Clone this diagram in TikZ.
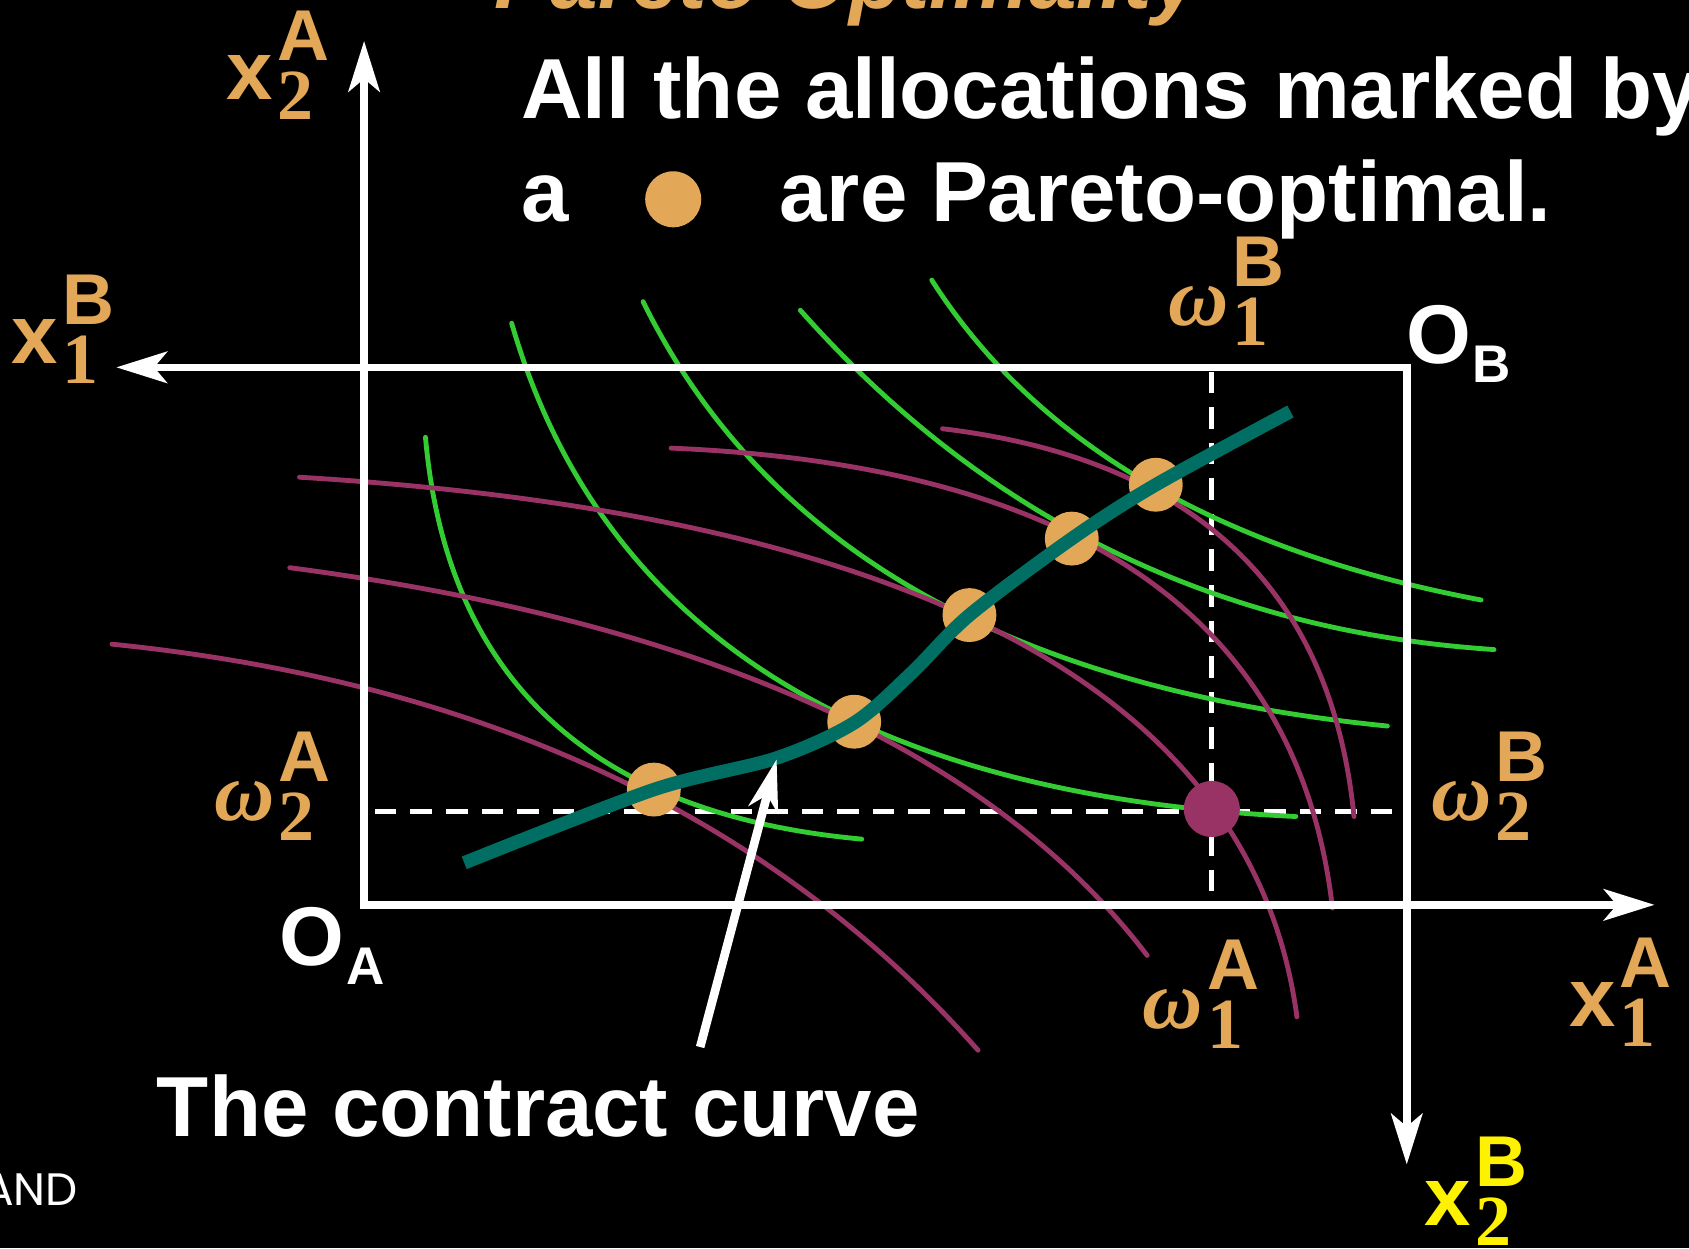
\documentclass[tikz,border=0pt]{standalone}
\usepackage{fontspec}
\setmainfont{Liberation Sans}
\newfontfamily\serif{Liberation Serif}
\newfontfamily\pubfont{Poppins}
\usetikzlibrary{arrows.meta}

\definecolor{gold}{RGB}{227,168,87}
\definecolor{icgreen}{RGB}{51,204,51}
\definecolor{icpurple}{RGB}{153,51,102}
\definecolor{ccteal}{RGB}{0,110,98}

\newcommand{\xlab}[3]{{\fontsize{22}{22}\selectfont #1}{\fontsize{19}{19}\selectfont\kern0.06em\rlap{\raisebox{0.54em}{#3}}\raisebox{-0.28em}{\serif #2}}}
\newcommand{\olab}[1]{{\fontsize{22}{22}\selectfont O}\kern0.04em\raisebox{-0.18cm}{\fontsize{14}{14}\selectfont #1}}
\newcommand{\om}{{\serif\itshape ω}}

\begin{document}
\begin{tikzpicture}[x=0.01cm,y=-0.01cm,
    >={Stealth[length=4.7mm,width=2.9mm,inset=1.2mm]},
    ax/.style={draw=white,line width=0.07cm,<->},
    guide/.style={draw=white,line width=0.045cm,dash pattern=on 0.2cm off 0.13cm},
    icA/.style={draw=icgreen,line width=0.045cm,line cap=round},
    icB/.style={draw=icpurple,line width=0.045cm,line cap=round},
    ccurve/.style={draw=ccteal,line width=0.125cm},
    pareto/.style={circle,fill=gold,inner sep=0pt,minimum size=0.5cm},
    lab/.style={inner sep=0pt,anchor=base west,font=\bfseries,text=gold},
    txt/.style={inner sep=0pt,anchor=base west,text=white,font=\fontsize{22.5}{26}\selectfont\bfseries}]
  \useasboundingbox (0,0) rectangle (1568,1159);
  \fill[black] (0,0) rectangle (1568,1159);

  \coordinate (OA) at (338,840);
  \coordinate (OB) at (1306,341);
  \coordinate (yA) at (338,38);
  \coordinate (xA) at (1536,840);
  \coordinate (xB) at (108,341);
  \coordinate (yB) at (1306,1081);
  \coordinate (w) at (1125,753);

  \draw[guide] ([xshift=0.1cm]w -| OA) -- ([xshift=-0.06cm]w -| OB);
  \draw[guide] ([yshift=-0.04cm]w |- OB) -- ([yshift=0.03cm]w |- OA);

  \draw[icA] (395,406) .. controls (415,632) and (550,756) .. (800,779);
  \draw[icA] (475,300) .. controls (558,587) and (801,739) .. (1203,758);
  \draw[icA] (597,280) .. controls (715,520) and (956,641) .. (1288,674);
  \draw[icA] (743,288) .. controls (914,481) and (1129,586) .. (1387,603);
  \draw[icA] (865,260) .. controls (962,412) and (1132,511) .. (1375,557);

  \draw[icB] (875,398) .. controls (1108,426) and (1236,546) .. (1257,758);
  \draw[icB] (623,416) .. controls (1001,432) and (1206,574) .. (1237,843);
  \draw[icB] (278,443) .. controls (855,478) and (1164,645) .. (1204,944);
  \draw[icB] (269,527) .. controls (656,578) and (921,698) .. (1065,887);
  \draw[icB] (104,598) .. controls (448,633) and (716,758) .. (908,975);

  \draw[ax] (yA) -- (OA) -- (xA);
  \draw[ax] (xB) -- (OB) -- (yB);

  \foreach \px/\py [count=\i] in {607/733,793/670,900/571,995/500,1073/450}
    \node[pareto] (p\i) at (\px,\py) {};
  \node[pareto,fill=icpurple,minimum size=0.52cm] (e) at (1125,751) {};

  \draw[ccurve] plot[smooth] coordinates {(431,801) (607,733) (720,704) (793,671) (846,625) (900,571) (995,500) (1073,450) (1198,382)};

  \node[txt] (cc) at (145,1055) {The contract curve};
  \coordinate (ccTail) at (650,972);
  \coordinate (ccHead) at (721,705);
  \draw[->,white,line width=0.08cm,>={Stealth[length=4.8mm,width=2.8mm,inset=1.4mm]}] (ccTail) -- (ccHead);

  \node[txt,text=gold,font=\fontsize{22.5}{26}\selectfont\bfseries\itshape] (title) at (458,8) {Pareto Optimality};
  \node[txt] (l1) at (483,110) {All the allocations marked by};
  \node[txt] (l2a) at (483,206) {a};
  \node[pareto,minimum size=0.52cm] (mk) at (625,185) {};
  \node[txt] (l2b) at (723,206) {are Pareto-optimal.};

  \node[lab] (x2A) at (210,92) {\xlab{x}{2}{A}};
  \node[lab] (x1B) at (10,337) {\xlab{x}{1}{B}};
  \node[lab] (x1A) at (1456,953) {\xlab{x}{1}{A}};
  \node[lab,text=yellow] (x2B) at (1322,1138) {\xlab{x}{2}{B}};
  \node[lab] (w1B) at (1084,302) {\xlab{\om}{1}{B}};
  \node[lab] (w2A) at (198,762) {\xlab{\om}{2}{A}};
  \node[lab] (w1A) at (1060,955) {\xlab{\om}{1}{A}};
  \node[lab] (w2B) at (1328,762) {\xlab{\om}{2}{B}};
  \node[lab,text=white] (oA) at (259,896) {\olab{A}};
  \node[lab,text=white] (oB) at (1305,337) {\olab{B}};

  \node[inner sep=0pt,anchor=base east,text=white,font=\pubfont\fontsize{12}{14}\selectfont] (pub) at (73,1119) {AND};
\end{tikzpicture}
\end{document}
